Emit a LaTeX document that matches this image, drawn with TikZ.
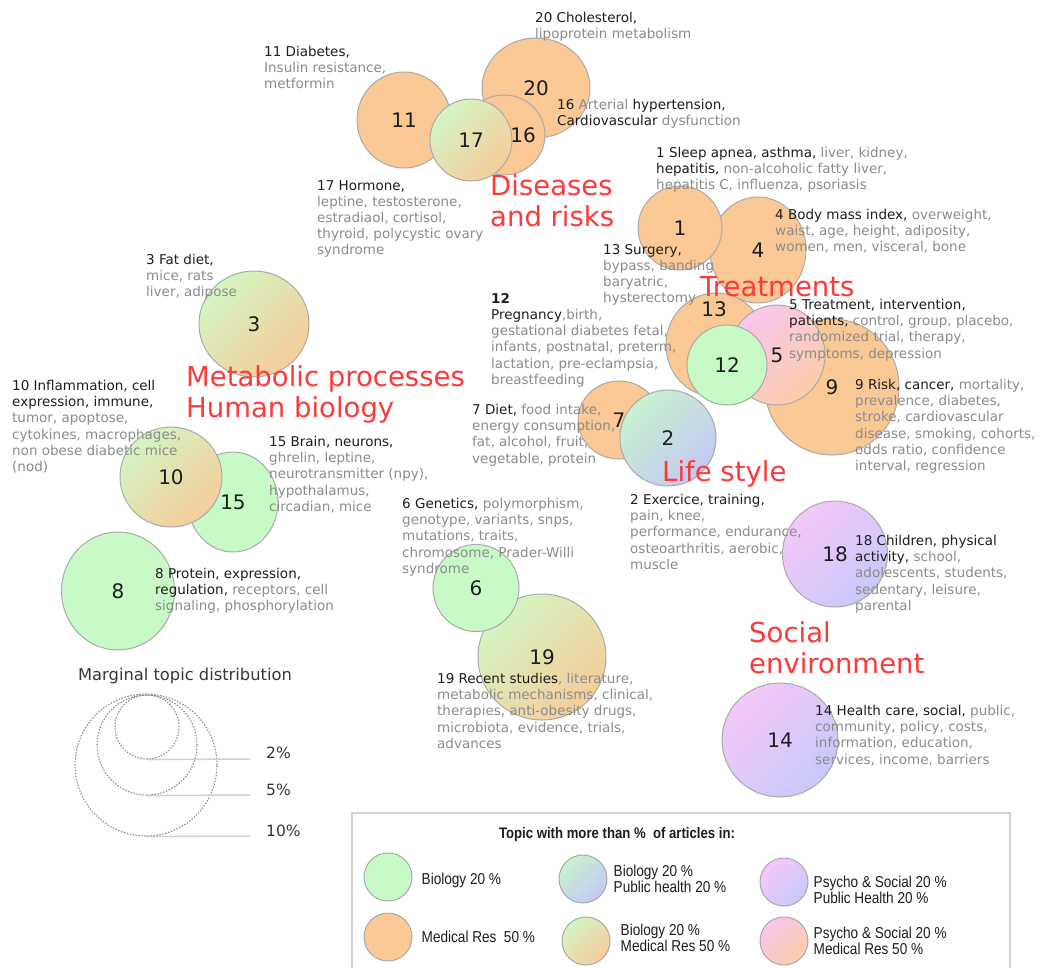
\documentclass[tikz,border=0pt]{standalone}
\usepackage{fontspec}
\setmainfont{DejaVu Sans}
\newfontfamily\legendfont[FakeStretch=0.86]{Liberation Sans}
\usetikzlibrary{shapes,positioning}
\definecolor{biocol}{RGB}{200,250,200}
\definecolor{medcol}{RGB}{250,200,148}
\definecolor{bmtop}{RGB}{212,245,195}
\definecolor{bmbot}{RGB}{245,205,155}
\definecolor{bptop}{RGB}{200,242,208}
\definecolor{bpbot}{RGB}{196,200,242}
\definecolor{pptop}{RGB}{245,200,250}
\definecolor{ppbot}{RGB}{200,200,250}
\definecolor{pmtop}{RGB}{250,198,238}
\definecolor{pmbot}{RGB}{250,205,170}
\definecolor{rim}{RGB}{170,170,170}
\definecolor{ink}{RGB}{30,30,30}
\definecolor{grey}{RGB}{140,140,140}
\definecolor{darkgrey}{RGB}{55,55,55}
\definecolor{themered}{RGB}{252,58,58}
\definecolor{rulegrey}{RGB}{208,208,208}
\def\kw#1{\textcolor{ink}{#1}}

\begin{document}
\begin{tikzpicture}[x=1pt,y=-1pt,% pixel grid, y going down
    % one bubble per topic
    topic/.style={ellipse,draw=rim,line width=1pt,inner sep=0pt,
      text=ink,font=\fontsize{20}{24}\selectfont},
    bio/.style={fill=biocol},
    med/.style={fill=medcol},
    biomed/.style={top color=bmtop,bottom color=bmbot,shading angle=45},
    biopub/.style={top color=bptop,bottom color=bpbot,shading angle=45},
    psypub/.style={top color=pptop,bottom color=ppbot,shading angle=45},
    psymed/.style={top color=pmtop,bottom color=pmbot,shading angle=45},
    num/.style={text=ink,font=\fontsize{20}{24}\selectfont,inner sep=0pt},
    % word lists and group names
    words/.style={anchor=north west,align=left,inner sep=0pt,text=grey,
      font=\fontsize{13.5}{16.2}\selectfont},
    theme/.style={anchor=north west,align=left,inner sep=0pt,text=themered,
      font=\fontsize{27.5}{31}\selectfont},
    % size scale
    marg/.style={circle,draw=grey,dash pattern=on 1.5pt off 1.5pt,line width=1.1pt,inner sep=0pt},
    margline/.style={draw=rulegrey,line width=1.5pt},
    pct/.style={anchor=west,inner sep=0pt,text=darkgrey,font=\fontsize{15.5}{18}\selectfont},
    % legend
    legdot/.style={ellipse,draw=rim,line width=1pt,inner sep=0pt,minimum width=48,minimum height=48},
    legtext/.style={align=left,inner sep=0pt,text=ink,font=\legendfont\fontsize{15.8}{16.5}\selectfont}
  ]
  \fill[white] (0,0) rectangle (1043,967);
  \useasboundingbox (0,0) rectangle (1043,967);

  % diseases
  \node[topic,med,minimum width=94,minimum height=96] (c11) at (404,120) {11};
  \node[topic,med,minimum width=108,minimum height=100] (c20) at (536,88) {20};
  \node[topic,med,minimum width=82,minimum height=80] (c16) at (504,135) {};
  \node[topic,biomed,minimum size=82] (c17) at (471,140) {17};
  \node[num] (n16) at (523,135) {16};

  % treatments
  \node[topic,med,minimum width=96,minimum height=106] (c4) at (758,250) {4};
  \node[topic,med,minimum size=84] (c1) at (680,228) {1};
  \node[topic,med,minimum width=134,minimum height=136] (c9) at (832,387) {9};
  \node[topic,med,minimum width=100,minimum height=104] (c13) at (716,345) {};
  \node[topic,psymed,minimum width=96,minimum height=100] (c5) at (777,355) {5};
  \node[topic,bio,minimum size=80] (c12) at (727,365) {12};
  \node[num] (n13) at (714,309) {13};

  % life style
  \node[topic,med,minimum width=82,minimum height=78] (c7) at (619,420) {7};
  \node[topic,biopub,minimum size=96] (c2) at (668,438) {2};

  % metabolic processes
  \node[topic,biomed,minimum width=110,minimum height=106] (c3) at (254,324) {3};
  \node[topic,bio,minimum width=90,minimum height=100] (c15) at (233,502) {15};
  \node[topic,biomed,minimum width=102,minimum height=100] (c10) at (171,477) {10};
  \node[topic,bio,minimum width=113,minimum height=118] (c8) at (118,591) {8};

  % genetics, recent studies
  \node[topic,biomed,minimum width=128,minimum height=126] (c19) at (542,657) {19};
  \node[topic,bio,minimum width=86,minimum height=87] (c6) at (476,588) {6};

  % social environment
  \node[topic,psypub,minimum width=105,minimum height=106] (c18) at (835,554) {18};
  \node[topic,psypub,minimum width=116,minimum height=114] (c14) at (780,740) {14};

  % word lists
  \node[words] (t20) at (535,12) {\kw{20 Cholesterol,}\\ lipoprotein metabolism};
  \node[words] (t11) at (264,46) {\kw{11 Diabetes,}\\ Insulin resistance,\\ metformin};
  \node[words] (t16) at (557,99) {\kw{16} Arterial \kw{hypertension,}\\ \kw{Cardiovascular} dysfunction};
  \node[words] (t17) at (317,180) {\kw{17 Hormone,}\\ leptine, testosterone,\\ estradiaol, cortisol,\\ thyroid, polycystic ovary\\ syndrome};
  \node[words] (t1) at (656,147) {\kw{1 Sleep apnea, asthma,} liver, kidney,\\ \kw{hepatitis,} non-alcoholic fatty liver,\\ hepatitis C, influenza, psoriasis};
  \node[words] (t4) at (775,209) {\kw{4 Body mass index,} overweight,\\ waist, age, height, adiposity,\\ women, men, visceral, bone};
  \node[words] (t13) at (603,244) {\kw{13 Surgery,}\\ bypass, banding\\ baryatric,\\ hysterectomy};
  \node[words] (t12) at (491,293) {\kw{\bfseries 12}\\ \kw{Pregnancy},birth,\\ gestational diabetes fetal,\\ infants, postnatal, preterm,\\ lactation, pre-eclampsia,\\ breastfeeding};
  \node[words] (t5) at (789,299) {\kw{5 Treatment, intervention,}\\ \kw{patients,} control, group, placebo,\\ randomized trial, therapy,\\ symptoms, depression};
  \node[words] (t9) at (855,379) {\kw{9 Risk, cancer,} mortality,\\ prevalence, diabetes,\\ stroke, cardiovascular\\ disease, smoking, cohorts,\\ odds ratio, confidence\\ interval, regression};
  \node[words] (t7) at (472,404) {\kw{7 Diet,} food intake,\\ energy consumption,\\ fat, alcohol, fruit,\\ vegetable, protein};
  \node[words] (t2) at (630,494) {\kw{2 Exercice, training,}\\ pain, knee,\\ performance, endurance,\\ osteoarthritis, aerobic,\\ muscle};
  \node[words] (t3) at (146,254) {\kw{3 Fat diet,}\\ mice, rats\\ liver, adipose};
  \node[words] (t10) at (12,380) {\kw{10 Inflammation, cell}\\ \kw{expression, immune,}\\ tumor, apoptose,\\ cytokines, macrophages,\\ non obese diabetic mice\\ (nod)};
  \node[words] (t15) at (269,436) {\kw{15 Brain, neurons,}\\ ghrelin, leptine,\\ neurotransmitter (npy),\\ hypothalamus,\\ circadian, mice};
  \node[words] (t6) at (402,498) {\kw{6 Genetics,} polymorphism,\\ genotype, variants, snps,\\ mutations, traits,\\ chromosome, Prader-Willi\\ syndrome};
  \node[words] (t8) at (155,568) {\kw{8 Protein, expression,}\\ \kw{regulation,} receptors, cell\\ signaling, phosphorylation};
  \node[words] (t18) at (855,535) {\kw{18 Children, physical}\\ \kw{activity,} school,\\ adolescents, students,\\ sedentary, leisure,\\ parental};
  \node[words] (t19) at (437,673) {\kw{19 Recent studies}, literature,\\ metabolic mechanisms, clinical,\\ therapies, anti-obesity drugs,\\ microbiota, evidence, trials,\\ advances};
  \node[words] (t14) at (815,705) {\kw{14 Health care, social,} public,\\ community, policy, costs,\\ information, education,\\ services, income, barriers};

  % group names
  \node[theme] (diseases) at (490,174) {Diseases\\and risks};
  \node[theme] (treatments) at (700,276) {Treatments};
  \node[theme] (metabolic) at (186,365) {Metabolic processes\\Human biology};
  \node[theme] (lifestyle) at (662,460) {Life style};
  \node[theme] (social) at (749,621) {Social\\environment};

  % marginal topic distribution
  \node[text=darkgrey,font=\fontsize{16.3}{19}\selectfont] (margtitle) at (185,676) {Marginal topic distribution};
  \node[marg,minimum size=142] (m10) at (146,765) {};
  \node[marg,minimum size=100] (m5) at (147,745) {};
  \node[marg,minimum size=64] (m2) at (147,727) {};
  \coordinate (e2) at (250,759);
  \coordinate (e5) at (250,795);
  \coordinate (e10) at (250,836);
  \draw[margline] (m2.south) -- (e2);
  \draw[margline] (m5.south) -- (e5);
  \draw[margline] (m10.south) -- (e10);
  \node[pct] (p2) at (266,753) {2\%};
  \node[pct] (p5) at (266,790) {5\%};
  \node[pct] (p10) at (266,831) {10\%};

  % legend
  \draw[rulegrey,line width=2pt] (352,975) -- (352,813) -- (1010,813) -- (1010,975);
  \node[text=ink,font=\legendfont\bfseries\fontsize{15.3}{17}\selectfont] (legtitle) at (617,835) {Topic with more than \%\ \ of articles in:};
  \node[legdot,bio] (lg1) at (388,877) {};
  \node[legdot,med] (lg2) at (388,937) {};
  \node[legdot,biopub] (lg3) at (583,879) {};
  \node[legdot,biomed] (lg4) at (586,941) {};
  \node[legdot,psypub] (lg5) at (784,882) {};
  \node[legdot,psymed] (lg6) at (784,941) {};
  \node[legtext,right=9pt of lg1,yshift=-3pt] (lt1) {Biology 20 \%};
  \node[legtext,right=9pt of lg2] (lt2) {Medical Res\ \ 50 \%};
  \node[legtext,right=6pt of lg3] (lt3) {Biology 20 \%\\Public health 20 \%};
  \node[legtext,right=10pt of lg4,yshift=3pt] (lt4) {Biology 20 \%\\Medical Res 50 \%};
  \node[legtext,right=5pt of lg5,yshift=-8pt] (lt5) {Psycho \& Social 20 \%\\Public Health 20 \%};
  \node[legtext,right=5pt of lg6] (lt6) {Psycho \& Social 20 \%\\Medical Res 50 \%};
\end{tikzpicture}
\end{document}
